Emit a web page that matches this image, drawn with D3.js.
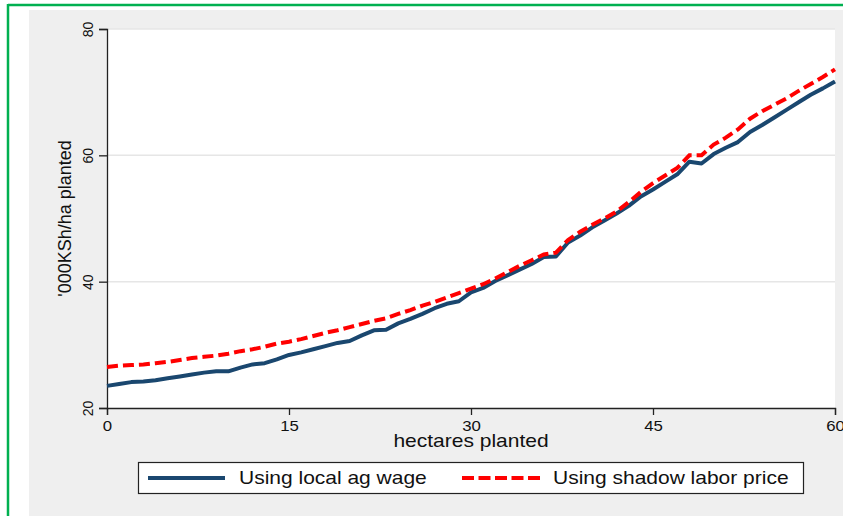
<!DOCTYPE html>
<html><head><meta charset="utf-8">
<script src="https://cdn.jsdelivr.net/npm/d3@7"></script>
<style>body{margin:0;background:#fff}svg{display:block}text{font-family:"Liberation Sans",Arial,sans-serif}</style>
</head><body>
<svg id="chart" width="843" height="516"></svg>
<script>
const hectares = d3.range(0, 61);
const localWage = [23.5,23.8,24.1,24.2,24.4,24.7,25.0,25.3,25.6,25.8,25.8,26.4,26.9,27.1,27.7,28.4,28.8,29.3,29.8,30.3,30.6,31.5,32.3,32.4,33.4,34.1,34.9,35.8,36.5,36.9,38.3,39.0,40.1,41.0,41.9,42.8,43.9,44.0,46.2,47.3,48.6,49.7,50.8,52.0,53.5,54.6,55.8,57.0,59.0,58.7,60.2,61.2,62.1,63.7,64.8,66.0,67.2,68.4,69.6,70.6,71.7];
const shadowPrice = [26.5,26.7,26.8,26.9,27.1,27.3,27.6,27.9,28.1,28.3,28.6,29.0,29.3,29.7,30.2,30.5,30.9,31.4,31.9,32.3,32.8,33.3,33.8,34.2,34.9,35.5,36.2,36.8,37.5,38.2,38.9,39.6,40.5,41.5,42.5,43.4,44.3,44.6,46.6,47.9,49.0,50.0,51.1,52.6,54.2,55.6,56.8,58.0,60.0,60.0,61.7,62.8,64.1,65.8,67.0,68.0,69.0,70.2,71.3,72.4,73.6];
const xTicks = [0, 15, 30, 45, 60];
const yTicks = [20, 40, 60, 80];
const seriesNames = ["Using local ag wage", "Using shadow labor price"];
const seriesColors = ["#1a476f", "#ff0000"];

const SX = 1.2; // horizontal stretch of the original picture's text
const svg = d3.select("#chart");
// outer frame
svg.append("rect").attr("x", 29).attr("y", 10).attr("width", 843 - 29).attr("height", 516 - 10).attr("fill", "#efefef");
svg.append("line").attr("x1", 8).attr("x2", 843).attr("y1", 5).attr("y2", 5).attr("stroke", "#00b050").attr("stroke-width", 2.5);
svg.append("line").attr("x1", 8).attr("x2", 8).attr("y1", 4).attr("y2", 516).attr("stroke", "#00b050").attr("stroke-width", 2.5);

const L = 107, R = 835, T = 29, B = 408;
const x = d3.scaleLinear().domain([0, 60]).range([L, R]);
const y = d3.scaleLinear().domain([20, 80]).range([B, T]);

svg.append("rect").attr("x", L).attr("y", T).attr("width", R - L).attr("height", B - T).attr("fill", "#fff");

// grid
svg.append("g").selectAll("line").data(yTicks.filter(d => d > 20)).join("line")
  .attr("x1", L).attr("x2", R).attr("y1", d => y(d)).attr("y2", d => y(d))
  .attr("stroke", "#e6e6e6").attr("stroke-width", 1.5);

// axes
const xAxis = svg.append("g").attr("transform", `translate(0,${B})`)
  .call(d3.axisBottom(x).tickValues(xTicks).tickSize(7).tickPadding(6));
const yAxis = svg.append("g").attr("transform", `translate(${L},0)`)
  .call(d3.axisLeft(y).tickValues(yTicks).tickSize(8).tickPadding(0));
[xAxis, yAxis].forEach(g => {
  g.select(".domain").attr("stroke", "#222").attr("stroke-width", 1.3);
  g.selectAll(".tick line").attr("stroke", "#222").attr("stroke-width", 1.3);
  g.selectAll("text").attr("fill", "#111").style("font-size", "14px");
});
xAxis.selectAll(".tick text").attr("y", 13).attr("dy", "0.71em").attr("transform", `scale(${SX},1)`);
yAxis.selectAll(".tick text")
  .attr("text-anchor", "middle").attr("x", null)
  .attr("transform", "translate(-19,0) rotate(-90)").attr("dy", "0.35em");

// axis titles
svg.append("text").attr("transform", `translate(${(L + R) / 2},447) scale(${SX},1)`).attr("text-anchor", "middle")
  .style("font-size", "17.5px").attr("fill", "#111").text("hectares planted");
svg.append("text").attr("transform", `translate(65,${(T + B) / 2}) rotate(-90)`).attr("text-anchor", "middle")
  .attr("dy", "0.35em").style("font-size", "18px").attr("fill", "#111").text("'000KSh/ha planted");

// lines
const line = d3.line().x((d, i) => x(hectares[i])).y(d => y(d));
svg.append("path").datum(localWage).attr("d", line).attr("fill", "none")
  .attr("stroke", seriesColors[0]).attr("stroke-width", 4).attr("stroke-linejoin", "round");
svg.append("path").datum(shadowPrice).attr("d", line).attr("fill", "none")
  .attr("stroke", seriesColors[1]).attr("stroke-width", 4).attr("stroke-dasharray", "11,5");

// legend
const lg = svg.append("g");
lg.append("rect").attr("x", 138.5).attr("y", 462.5).attr("width", 665).attr("height", 31)
  .attr("fill", "#fff").attr("stroke", "#222").attr("stroke-width", 1.2);
const items = [{x0: 148, x1: 225, tx: 239}, {x0: 462, x1: 540, tx: 553}];
items.forEach((it, i) => {
  lg.append("line").attr("x1", it.x0).attr("x2", it.x1).attr("y1", 478).attr("y2", 478)
    .attr("stroke", seriesColors[i]).attr("stroke-width", 4)
    .attr("stroke-dasharray", i === 1 ? "12,4.5" : null);
  lg.append("text").attr("transform", `translate(${it.tx},478) scale(${SX},1)`).attr("dy", "0.35em")
    .style("font-size", "17.5px").attr("fill", "#111").text(seriesNames[i]);
});
</script>
</body></html>
